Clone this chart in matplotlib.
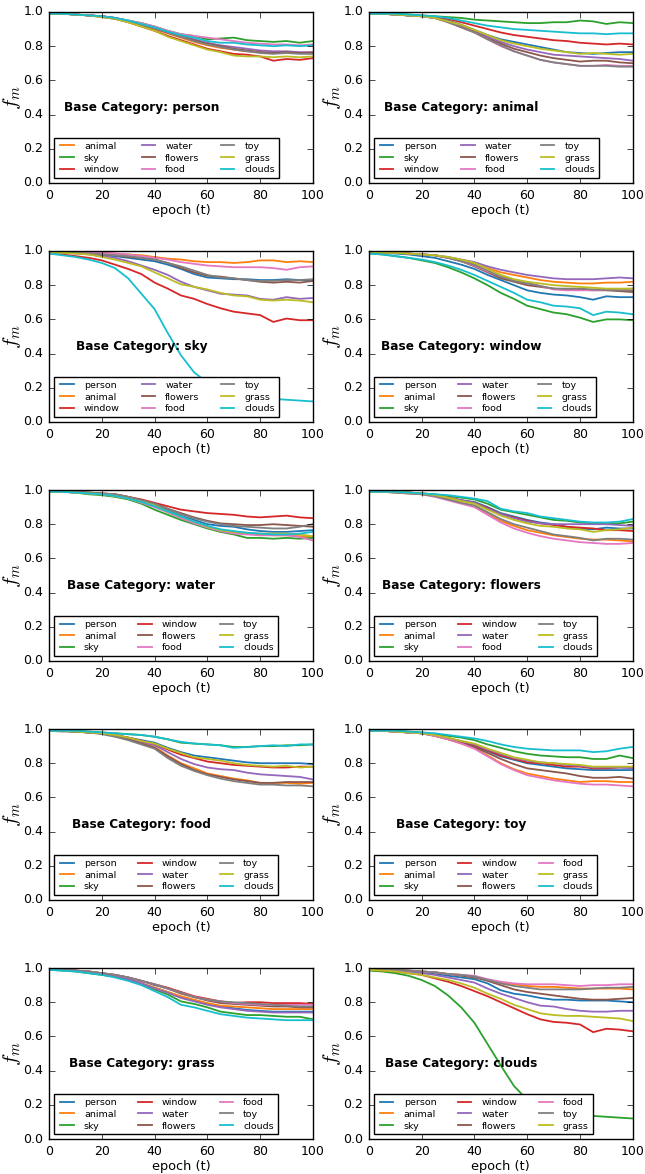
import matplotlib.pyplot as plt

# category -> colour (same colour for a category in every panel)
categories = ["person", "animal", "sky", "window", "water",
              "flowers", "food", "toy", "grass", "clouds"]
colors = ["#1f77b4", "#ff7f0e", "#2ca02c", "#d62728", "#9467bd",
          "#8c564b", "#e377c2", "#7f7f7f", "#bcbd22", "#17becf"]

epochs = list(range(0, 101, 5))   # values read every 5 epochs, in percent

base_person = {
    "animal":  [99, 99, 98.5, 98, 97.5, 96, 94.5, 92, 90, 87.5, 85, 82.5, 80.5, 79, 78, 77, 76.5, 76, 76.5, 76, 76.5],
    "sky":     [99, 99, 98.5, 98, 97.5, 96.5, 95, 93.5, 91.5, 89, 87, 86, 84, 84.5, 85, 83.5, 83, 82.5, 83, 82, 83],
    "window":  [99, 99, 98.5, 98, 97, 96, 94, 91.5, 89, 86, 83.5, 81, 78.5, 77, 75.5, 75, 74, 71.5, 72.5, 72, 73],
    "water":   [99, 99, 98.5, 98, 97.5, 96.5, 94.5, 92.5, 90.5, 88, 86, 84, 82, 80.5, 79.5, 78.5, 77.5, 77, 77, 76.5, 76.5],
    "flowers": [99, 99, 98.5, 98, 97.5, 96.5, 94.5, 92.5, 90.5, 88, 85.5, 83.5, 81.5, 80, 78.5, 77.5, 76.5, 76, 76.5, 76, 76],
    "food":    [99, 99, 98.5, 98, 97.5, 96.5, 95, 93.5, 91.5, 89, 87, 86, 85, 84, 83, 82, 81.5, 81, 81, 80.5, 81],
    "toy":     [99, 99, 98.5, 98, 97.5, 96.5, 94.5, 92.5, 90.5, 88, 85.5, 83, 81, 79.5, 78, 77, 76, 75.5, 76, 75.5, 75.5],
    "grass":   [99, 99, 98.5, 98, 97, 96, 94, 91.5, 89, 85.5, 83, 80.5, 78, 76.5, 74.5, 74, 74, 73.5, 74, 73.5, 74],
    "clouds":  [99, 99, 98.5, 98, 97.5, 96.5, 95, 93, 91, 88.5, 86.5, 85, 83, 82, 82, 81, 80.5, 80, 80.5, 80, 80.5],
}

base_animal = {
    "person":  [99, 99, 98.5, 98, 97.5, 96.5, 95, 92.5, 89.5, 86.5, 84, 82.5, 81, 79.5, 78, 76.5, 76, 75.5, 76, 76.5, 76.5],
    "sky":     [99, 99, 99, 98.5, 98, 97.5, 97, 96.5, 95.5, 95, 94.5, 94, 93.5, 93.5, 94, 94, 95, 94.5, 93, 94, 93.5],
    "window":  [99, 99, 98.5, 98, 97.5, 97, 96, 94, 92, 90, 88, 86.5, 85.5, 84.5, 83.5, 83, 82, 81.5, 81, 81.5, 81],
    "water":   [99, 99, 98.5, 98, 97.5, 96.5, 94.5, 92, 89, 85.5, 82.5, 80, 78, 76.5, 75, 74.5, 74, 73.5, 73, 72.5, 71.5],
    "flowers": [99, 99, 98.5, 98, 97.5, 96.5, 94.5, 91.5, 88.5, 84.5, 81.5, 78.5, 76.5, 74.5, 73, 72, 71, 71.5, 71.5, 70.5, 70],
    "food":    [99, 99, 98.5, 98, 97.5, 96.5, 94, 91, 88, 84, 80, 77, 74.5, 72, 70.5, 69.5, 68.5, 68.5, 69, 68.5, 68.5],
    "toy":     [99, 99, 98.5, 98, 97.5, 96.5, 94, 91, 88, 84, 80.5, 77, 74.5, 72, 70.5, 69.5, 68.5, 68.5, 68.5, 68, 68],
    "grass":   [99, 99, 98.5, 98, 97.5, 96.5, 94.5, 92.5, 89.5, 86.5, 83.5, 81.5, 80, 78.5, 77.5, 76.5, 75.5, 76, 75.5, 75, 75.5],
    "clouds":  [99, 99, 99, 98.5, 98, 97.5, 96.5, 95, 93.5, 92, 91, 90, 89.5, 89, 88.5, 88, 87.5, 87.5, 87, 87.5, 87.5],
}

base_sky = {
    "person":  [99, 99, 99, 98.5, 97.5, 97, 96, 95, 94, 92, 89.5, 86.5, 84.5, 84, 83.5, 83.5, 83, 83, 83.5, 83, 83],
    "animal":  [99, 99, 99, 99, 99, 98.5, 98, 97.5, 96.5, 95.5, 95, 94, 93.5, 93.5, 93, 93.5, 94.5, 94.5, 93.5, 94, 93.5],
    "window":  [98.5, 98, 97, 96, 94.5, 92, 89.5, 86.5, 81.5, 78, 74, 72, 69, 66.5, 64.5, 63.5, 62.5, 58.5, 60.5, 59.5, 59.5],
    "water":   [99, 99, 98.5, 98, 97, 96, 94, 91.5, 89, 86, 82, 79, 77, 75, 74.5, 74, 72, 71.5, 73, 72, 72.5],
    "flowers": [99, 99, 99, 98.5, 98, 97.5, 96.5, 96, 95, 93, 90, 87.5, 85.5, 85, 84, 83, 82, 81.5, 82, 81.5, 82.5],
    "food":    [99, 99, 99, 99, 99, 98.5, 98, 97, 96, 95, 93.5, 92.5, 91.5, 91, 90.5, 90.5, 90.5, 90, 89, 90.5, 91],
    "toy":     [99, 99, 99, 98.5, 98, 97.5, 97, 96, 95, 93, 91, 88.5, 86, 84.5, 84, 83, 82.5, 82.5, 83, 83, 83.5],
    "grass":   [99, 99, 98.5, 98, 96.5, 95, 93, 91, 87.5, 84, 80.5, 79, 77.5, 75.5, 74, 73.5, 71.5, 71, 71.5, 71, 70],
    "clouds":  [98.5, 97.5, 96.5, 95, 93, 90, 84, 75, 66, 52, 39, 29, 23, 19, 16.5, 15, 14, 13.5, 13, 12.5, 12],
}

base_window = {
    "person":  [99, 99, 98.5, 98, 97, 96, 94, 92, 89.5, 86, 83, 80, 77, 75.5, 74.5, 74, 73, 71.5, 73.5, 73, 73],
    "animal":  [99, 99, 99, 98.5, 98, 97.5, 96, 94.5, 92.5, 90, 87.5, 86, 84.5, 83, 82, 81.5, 81, 81, 81.5, 81.5, 82],
    "sky":     [98.5, 98, 97, 96, 94.5, 93, 90.5, 87.5, 84, 80, 75.5, 72, 68, 66, 64, 63, 61, 58.5, 60, 60, 59.5],
    "water":   [99, 99, 99, 98.5, 98, 97.5, 96.5, 95, 93.5, 91, 89, 87.5, 86, 85, 84, 83.5, 83.5, 83.5, 84, 84.5, 84],
    "flowers": [99, 99, 99, 98.5, 98, 97.5, 96, 94, 91, 87.5, 84, 82, 80, 79, 78, 77.5, 77.5, 77, 77, 76.5, 76],
    "food":    [99, 99, 99, 98.5, 98, 97.5, 96, 94, 91.5, 88, 85, 83, 81.5, 79.5, 77.5, 77, 77, 77, 77.5, 77.5, 78],
    "toy":     [99, 99, 99, 98.5, 98, 97.5, 96, 94, 92, 88.5, 85, 82.5, 81, 79.5, 78, 78, 78, 77.5, 77.5, 77, 77],
    "grass":   [99, 99, 99, 98.5, 98, 97.5, 96.5, 95, 93, 89.5, 86, 83.5, 82, 81, 80, 79.5, 79, 78.5, 78, 78, 78],
    "clouds":  [98.5, 98, 97, 96, 95, 93.5, 91.5, 89, 86, 82.5, 79, 75.5, 71.5, 70, 68, 67.5, 66.5, 62.5, 64.5, 64, 63],
}

base_water = {
    "person":  [99, 99, 98.5, 98, 97.5, 96.5, 95, 93, 91, 88, 85, 82.5, 80, 79, 78.5, 77, 76, 75.5, 75.5, 76, 76.5],
    "animal":  [99, 99, 98.5, 98, 97.5, 96.5, 95, 93, 90.5, 87, 84, 81, 78.5, 76.5, 75, 74.5, 74, 73.5, 73.5, 73, 72.5],
    "sky":     [99, 99, 98.5, 97.5, 97, 96, 94.5, 92, 88.5, 85.5, 82.5, 80, 77.5, 75.5, 74, 72, 72, 71.5, 72, 71.5, 72],
    "window":  [99, 99, 99, 98.5, 98, 97.5, 96, 94.5, 92.5, 90.5, 88.5, 87.5, 86.5, 86, 85.5, 84.5, 84, 84.5, 85, 84, 83.5],
    "flowers": [99, 99, 99, 98.5, 98, 97.5, 96, 94, 92, 89, 86.5, 84, 82, 80.5, 80, 79.5, 79.5, 80, 79.5, 79, 78.5],
    "food":    [99, 99, 98.5, 98, 97.5, 96.5, 95, 92.5, 90, 87, 83.5, 80.5, 78, 76, 74.5, 74, 73.5, 73.5, 73.5, 72.5, 70.5],
    "toy":     [99, 99, 99, 98.5, 98, 97.5, 96, 94, 92, 89, 86, 83.5, 81.5, 80, 79, 78.5, 78, 77.5, 77.5, 78.5, 80],
    "grass":   [99, 99, 98.5, 98, 97.5, 96.5, 95, 93, 91, 87.5, 84.5, 81.5, 78.5, 76.5, 75.5, 75, 74.5, 74.5, 74.5, 74, 73],
    "clouds":  [99, 99, 98.5, 98, 97.5, 96.5, 95, 93, 90.5, 87.5, 84.5, 81.5, 79, 77, 76, 75, 74.5, 74, 74, 74.5, 75.5],
}

base_flowers = {
    "person":  [99, 99, 99, 98.5, 98, 97, 95.5, 94, 93, 90, 86.5, 84.5, 82.5, 81, 80, 78.5, 77.5, 77, 78, 77.5, 77.5],
    "animal":  [99, 99, 98.5, 98, 97.5, 96.5, 94.5, 92.5, 90.5, 86, 82, 79, 76.5, 75, 73.5, 72.5, 71.5, 71, 71, 70.5, 70],
    "sky":     [99, 99, 99, 98.5, 98, 97.5, 96.5, 95.5, 94.5, 92, 88.5, 87, 85.5, 84, 82.5, 82, 81, 80.5, 80, 80.5, 81.5],
    "window":  [99, 99, 99, 98.5, 98, 97, 95.5, 94, 92.5, 89.5, 86, 84, 82, 80.5, 79.5, 78.5, 78, 77.5, 76.5, 76.5, 76],
    "water":   [99, 99, 99, 98.5, 98, 97, 95.5, 94, 92.5, 89, 86, 83.5, 81.5, 80.5, 80, 80, 80, 80, 80, 79.5, 79],
    "food":    [99, 99, 98.5, 98, 97.5, 96, 94, 92, 90, 85.5, 81, 77.5, 75, 73, 71.5, 70.5, 69.5, 69, 68.5, 68.5, 69],
    "toy":     [99, 99, 98.5, 98, 97.5, 96.5, 94.5, 92.5, 91, 87, 83, 80, 78, 76, 74, 73, 72, 70.5, 71.5, 71.5, 71],
    "grass":   [99, 99, 99, 98.5, 98, 97, 95.5, 93.5, 92, 88.5, 85, 82.5, 80.5, 79, 78.5, 77.5, 77, 75.5, 76.5, 77, 78],
    "clouds":  [99, 99, 99, 98.5, 98, 97.5, 97, 96, 95, 93.5, 89, 87.5, 86.5, 84.5, 83.5, 82.5, 81.5, 81, 81, 81.5, 83],
}

base_food = {
    "person":  [99, 99, 98.5, 98, 97.5, 96.5, 95, 93.5, 92, 89, 86.5, 84.5, 83.5, 82.5, 81.5, 80.5, 80, 80, 80, 80, 79.5],
    "animal":  [99, 99, 98.5, 98, 97.5, 96, 94, 92, 89.5, 84.5, 80, 77, 74, 72.5, 71, 70, 68.5, 68.5, 68.5, 68, 68.5],
    "sky":     [99, 99, 99, 98.5, 98, 97.5, 97, 96.5, 95.5, 94, 92, 91.5, 91, 90.5, 89.5, 89.5, 90, 90, 90.5, 90.5, 91],
    "window":  [99, 99, 98.5, 98, 97.5, 96.5, 95, 93, 91, 88, 85, 83, 81, 80, 79, 78.5, 78, 77.5, 77.5, 78, 78],
    "water":   [99, 99, 98.5, 98, 97.5, 96.5, 94.5, 92.5, 90.5, 86.5, 82.5, 79.5, 77.5, 76.5, 76, 74.5, 73.5, 73, 72.5, 72, 70.5],
    "flowers": [99, 99, 98.5, 98, 97.5, 96, 94, 91.5, 89, 84, 79.5, 76, 73.5, 72, 70.5, 69.5, 68.5, 68.5, 69, 69, 69],
    "toy":     [99, 98.5, 98.5, 98, 97, 95.5, 93.5, 91, 88.5, 83, 78.5, 75.5, 73, 71, 69.5, 68.5, 67.5, 67.5, 67, 67, 66.5],
    "grass":   [99, 99, 98.5, 98, 97.5, 96.5, 95, 93, 91.5, 88.5, 86, 83.5, 82.5, 81.5, 80, 79, 78.5, 78, 78.5, 77.5, 78],
    "clouds":  [99, 99, 99, 98.5, 98, 97.5, 97, 96.5, 95.5, 94, 92.5, 91.5, 91, 90.5, 89, 89.5, 90, 90.5, 90, 91, 91],
}

base_toy = {
    "person":  [99, 99, 98.5, 98, 97.5, 96.5, 94.5, 92.5, 90, 87, 84, 82, 80, 79, 78, 77, 76.5, 76, 76, 76, 76],
    "animal":  [99, 99, 98.5, 98, 97.5, 96, 94, 91.5, 89, 84.5, 80, 76.5, 74, 72.5, 71, 70, 69, 69.5, 69.5, 69, 69],
    "sky":     [99, 99, 99, 98.5, 98, 97, 96, 95, 93.5, 91, 89, 87, 85.5, 84.5, 84, 83.5, 83.5, 82.5, 82.5, 84.5, 83],
    "window":  [99, 99, 98.5, 98, 97.5, 96.5, 94.5, 92.5, 90.5, 87.5, 84.5, 82.5, 80.5, 80, 79, 78, 78, 77, 77, 77.5, 77.5],
    "water":   [99, 99, 98.5, 98, 97.5, 96.5, 94.5, 93, 91, 88, 85.5, 83, 81.5, 80.5, 80, 79, 78.5, 77.5, 77.5, 77.5, 77],
    "flowers": [99, 99, 98.5, 98, 97.5, 96, 94, 92, 89.5, 86, 82.5, 79.5, 77, 76, 75, 74, 72.5, 71.5, 71.5, 72, 71],
    "food":    [99, 99, 98.5, 98, 97.5, 96, 94, 91.5, 88.5, 84, 79.5, 76, 73, 71.5, 70, 69, 68, 67.5, 67.5, 67, 66.5],
    "grass":   [99, 99, 98.5, 98, 97.5, 96.5, 95, 93, 91.5, 88.5, 86, 83.5, 82, 80.5, 80, 79.5, 79, 78, 78, 78, 78],
    "clouds":  [99, 99, 99, 98.5, 98, 97.5, 96.5, 95.5, 94.5, 93, 91, 89.5, 88.5, 88, 87.5, 87.5, 87.5, 86.5, 87, 88.5, 89.5],
}

base_grass = {
    "person":  [99, 99, 98.5, 97.5, 96.5, 95.5, 93.5, 91, 88.5, 86, 83, 81, 79, 77.5, 76.5, 75.5, 75, 74.5, 74.5, 74.5, 74.5],
    "animal":  [99, 99, 98.5, 97.5, 96.5, 95.5, 93.5, 91, 88.5, 86, 83.5, 81.5, 79.5, 78, 77.5, 77, 76.5, 76, 76, 76, 76],
    "sky":     [99, 98.5, 98, 97, 96, 95, 93, 90.5, 87.5, 84.5, 80.5, 79, 77, 74.5, 73.5, 72.5, 72.5, 72, 71.5, 71.5, 70],
    "window":  [99, 99, 98.5, 98, 97, 96, 94.5, 92.5, 90.5, 88.5, 86, 83.5, 82, 80.5, 79.5, 80, 80, 79.5, 79.5, 79.5, 79],
    "water":   [99, 99, 98.5, 97.5, 96.5, 95.5, 93.5, 91, 88, 85.5, 82.5, 80.5, 78.5, 77, 76, 75, 74.5, 74, 74, 74, 74],
    "flowers": [99, 99, 98.5, 98, 97, 96, 94.5, 92.5, 90, 88, 85, 83, 81, 79.5, 79, 78.5, 78, 77.5, 77.5, 77, 77],
    "food":    [99, 99, 98.5, 98, 97, 96, 94.5, 92.5, 90.5, 88, 85.5, 83, 81.5, 80.5, 79.5, 79, 78.5, 78.5, 78.5, 78.5, 78.5],
    "toy":     [99, 99, 98.5, 98, 97, 96, 94.5, 92.5, 90.5, 88, 85.5, 83, 81.5, 80.5, 80, 79.5, 79, 78.5, 78, 77.5, 77.5],
    "clouds":  [99, 98.5, 98, 97, 96, 94.5, 92.5, 90, 86.5, 83, 78.5, 77, 75, 73, 72, 71, 70.5, 70, 69.5, 69.5, 69.5],
}

base_clouds = {
    "person":  [99, 99, 98.5, 98, 97.5, 96.5, 95.5, 94.5, 93.5, 91, 87, 85, 84, 82.5, 81.5, 81.5, 81, 81, 81, 80.5, 80],
    "animal":  [99, 99, 99, 98.5, 98, 97.5, 96.5, 96, 95, 93, 91.5, 90.5, 89.5, 89, 89, 88.5, 88, 88, 88, 88, 87.5],
    "sky":     [98.5, 98, 97, 95.5, 93, 89.5, 84, 77, 68, 55.5, 43, 31, 23, 19, 16.5, 15, 14, 13.5, 13, 12.5, 12],
    "window":  [99, 98.5, 98, 97, 96, 94, 92, 89.5, 86.5, 83.5, 80, 76.5, 73, 70, 68.5, 68, 67, 62.5, 64.5, 64, 63],
    "water":   [99, 99, 98.5, 98, 97, 96, 94.5, 93, 91.5, 88, 85, 82.5, 80, 78, 77.5, 76, 75, 74.5, 74.5, 75, 75],
    "flowers": [99, 99, 99, 98.5, 98, 97.5, 96.5, 95.5, 94.5, 92.5, 90, 87.5, 86, 85, 84, 83, 82, 81.5, 81.5, 82, 82.5],
    "food":    [99, 99, 99, 98.5, 98, 97.5, 96.5, 96, 95.5, 93.5, 92, 91, 90.5, 90.5, 90.5, 90, 89.5, 90, 90, 90.5, 90.5],
    "toy":     [99, 99, 99, 98.5, 98, 97.5, 96.5, 96, 95, 93, 91, 89.5, 88.5, 87.5, 87.5, 87.5, 87.5, 88, 88.5, 88.5, 89],
    "grass":   [99, 98.5, 98, 97, 96, 94.5, 93, 91, 88.5, 85, 82, 78.5, 76, 73.5, 72.5, 72, 72, 71.5, 71, 70.5, 69],
}

panels = [("person", base_person), ("animal", base_animal),
          ("sky", base_sky), ("window", base_window),
          ("water", base_water), ("flowers", base_flowers),
          ("food", base_food), ("toy", base_toy),
          ("grass", base_grass), ("clouds", base_clouds)]

plt.style.use("classic")
plt.rcParams.update({
    "figure.facecolor": "white",
    "savefig.facecolor": "white",
    "font.family": "DejaVu Sans",
    "xtick.labelsize": 9,
    "ytick.labelsize": 9,
    "axes.labelsize": 9.3,
    "lines.linewidth": 1.3,
})

fig, axes = plt.subplots(5, 2, figsize=(6.45, 11.74))
fig.subplots_adjust(left=0.076, right=0.981, top=0.9898, bottom=0.0298,
                    hspace=0.398, wspace=0.212)

for ax, (base, series) in zip(axes.flat, panels):
    for cat in categories:
        if cat in series:
            ax.plot(epochs, [v / 100 for v in series[cat]],
                    color=colors[categories.index(cat)], label=cat)
    ax.set_xlim(0, 100)
    ax.set_ylim(0, 1)
    ax.set_xticks([0, 20, 40, 60, 80, 100])
    ax.set_yticks([0, 0.2, 0.4, 0.6, 0.8, 1.0])
    ax.set_xlabel("epoch (t)", labelpad=2)
    ax.set_ylabel("$f_m$", fontsize=15, labelpad=0)
    ax.text(0.35, 0.44, "Base Category: " + base, transform=ax.transAxes,
            ha="center", va="center", fontsize=8.7, fontweight="bold")
    ax.legend(loc="lower left", ncol=3, fontsize=6.8, borderaxespad=0.5,
              handlelength=2.0, handletextpad=0.8, columnspacing=2.0,
              labelspacing=0.3, borderpad=0.4, fancybox=False)

fig.savefig("out.png", dpi=100)
